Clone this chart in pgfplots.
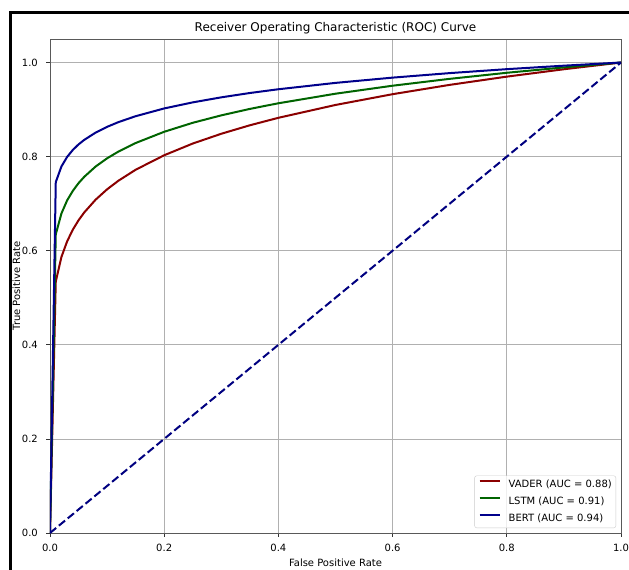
\documentclass[border=0pt]{standalone}
\usepackage{fontspec}
\setmainfont{DejaVu Sans}
\usepackage{pgfplots}
\pgfplotsset{compat=1.18}
\definecolor{cvader}{HTML}{8B0000}
\definecolor{clstm}{HTML}{006400}
\definecolor{cbert}{HTML}{00008B}
\definecolor{cdiag}{HTML}{000080}
\definecolor{cgrid}{HTML}{B0B0B0}
\begin{document}
\begin{tikzpicture}
\useasboundingbox (-50pt,-37pt) rectangle (579pt,533pt);
\fill[white] (-50pt,-37pt) rectangle (579pt,533pt);
\draw[line width=3pt] (-39pt,-37pt) -- (-39pt,520pt) -- (579pt,520pt);
\begin{axis}[
  scale only axis,
  width=571pt, height=494pt,
  xmin=0, xmax=1, ymin=0, ymax=1.05,
  xtick={0,0.2,0.4,0.6,0.8,1.0},
  ytick={0,0.2,0.4,0.6,0.8,1.0},
  /pgf/number format/.cd, fixed, fixed zerofill, precision=1, assume math mode=true,
  /pgfplots/.cd,
  tick align=outside,
  major tick length=3.5pt,
  tick style={black!80, line width=0.8pt},
  xtick pos=bottom, ytick pos=left,
  axis line style={black!65, line width=0.8pt},
  grid=major,
  major grid style={cgrid, line width=0.8pt},
  ticklabel style={font=\fontsize{10}{12}\selectfont, inner sep=0pt},
  xticklabel style={yshift=-7.5pt},
  yticklabel style={xshift=-8.5pt},
  title={Receiver Operating Characteristic (ROC) Curve},
  every axis title/.style={font=\fontsize{12}{14}\selectfont, at={(axis description cs:0.5,1)}, anchor=base, yshift=7pt, inner sep=0pt},
  xlabel={False Positive Rate},
  ylabel={True Positive Rate},
  xlabel style={font=\fontsize{10}{12}\selectfont, at={(axis description cs:0.5,-0.068)}, anchor=base, inner sep=0pt},
  ylabel style={font=\fontsize{10}{12}\selectfont, at={(axis description cs:-0.0525,0.5)}, anchor=base, rotate=0, inner sep=0pt},
  legend cell align=left,
  legend image code/.code={\draw[#1] (0pt,3.5pt) -- (20pt,3.5pt);},
  legend style={at={(axis description cs:1,0)}, anchor=south east, xshift=-5pt, yshift=5pt,
    draw=black!20, rounded corners=2pt, fill=white, fill opacity=0.8, text opacity=1,
    font=\fontsize{10}{12}\selectfont, inner xsep=4pt, inner ysep=4pt, row sep=7pt,
    nodes={inner sep=0pt, text height=7.5pt, text depth=2.5pt},
    /tikz/every odd column/.append style={column sep=8pt}},
]
\addplot[cvader, line width=2pt] coordinates {
(0,0) (0.0101,0.5344) (0.02,0.5866) (0.03,0.6199) (0.04,0.6448) (0.05,0.6647) (0.06,0.6814) (0.08,0.7086) (0.1,0.7305) (0.12,0.7489) (0.15,0.7721) (0.2,0.8029) (0.25,0.8278) (0.3,0.8486) (0.35,0.8666) (0.4,0.8825) (0.5,0.9098) (0.6,0.9327) (0.7,0.9525) (0.8,0.9700) (0.9,0.9857) (1,1)};
\addlegendentry{VADER (AUC = 0.88)}
\addplot[clstm, line width=2pt] coordinates {
(0,0) (0.0101,0.6348) (0.02,0.6791) (0.03,0.7070) (0.04,0.7273) (0.05,0.7436) (0.06,0.7571) (0.08,0.7790) (0.1,0.7964) (0.12,0.8108) (0.15,0.8289) (0.2,0.8528) (0.25,0.8719) (0.3,0.8877) (0.35,0.9014) (0.4,0.9134) (0.5,0.9337) (0.6,0.9507) (0.7,0.9653) (0.8,0.9782) (0.9,0.9896) (1,1)};
\addlegendentry{LSTM (AUC = 0.91)}
\addplot[cbert, line width=2pt] coordinates {
(0,0) (0.0101,0.7458) (0.02,0.7790) (0.03,0.7994) (0.04,0.8142) (0.05,0.8260) (0.06,0.8356) (0.08,0.8511) (0.1,0.8633) (0.12,0.8734) (0.15,0.8859) (0.2,0.9024) (0.25,0.9153) (0.3,0.9260) (0.35,0.9352) (0.4,0.9432) (0.5,0.9567) (0.6,0.9679) (0.7,0.9775) (0.8,0.9859) (0.9,0.9933) (1,1)};
\addlegendentry{BERT (AUC = 0.94)}
\addplot[cdiag, line width=2pt, dash pattern=on 8pt off 3.5pt, forget plot] coordinates {(0,0) (1,1)};
\end{axis}
\end{tikzpicture}
\end{document}
